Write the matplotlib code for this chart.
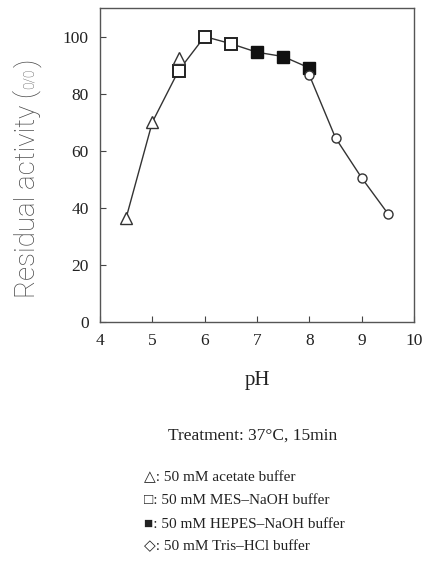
import matplotlib
matplotlib.use("Agg")
import matplotlib.pyplot as plt
import numpy as np

# Data
acetate_ph = [4.5, 5.0, 5.5]
acetate_act = [36.5, 70.0, 92.5]
mes_ph = [5.5, 6.0, 6.5]
mes_act = [88.0, 100.0, 97.5]
hepes_ph = [7.0, 7.5, 8.0]
hepes_act = [94.5, 93.0, 89.0]
tris_ph = [8.0, 8.5, 9.0, 9.5]
tris_act = [86.5, 64.5, 50.5, 38.0]

x_ticks = [4, 5, 6, 7, 8, 9, 10]
y_ticks = [0, 20, 40, 60, 80, 100]

legend_lines = [
    "\u25b3: 50 mM acetate buffer",
    "\u25a1: 50 mM MES\u2013NaOH buffer",
    "\u25a0: 50 mM HEPES\u2013NaOH buffer",
    "\u25c7: 50 mM Tris\u2013HCl buffer",
]

serif = ["Liberation Serif", "DejaVu Serif"]

fig = plt.figure(figsize=(4.25, 5.64), dpi=100)
ax = fig.add_axes([100/425, 1-322/564, 314/425, 314/564])

# connecting line
line_ph = acetate_ph[:2] + mes_ph + hepes_ph + tris_ph
line_act = acetate_act[:2] + mes_act + hepes_act + tris_act
ax.plot(line_ph, line_act, color="#333333", lw=1.0, zorder=1)

ax.plot(acetate_ph, acetate_act, ls="none", marker="^", ms=8, mfc="white", mec="#333333", mew=1.0, zorder=3)
ax.plot(mes_ph, mes_act, ls="none", marker="s", ms=8.5, mfc="white", mec="#222222", mew=1.4, zorder=2)
ax.plot(hepes_ph, hepes_act, ls="none", marker="s", ms=8.5, mfc="#111111", mec="#111111", mew=1.0, zorder=2)
ax.plot(tris_ph, tris_act, ls="none", marker="o", ms=6.5, mfc="white", mec="#333333", mew=1.0, zorder=3)

ax.set_xlim(4, 10)
ax.set_ylim(0, 110)
ax.set_xticks(x_ticks)
ax.set_yticks(y_ticks)
ax.set_xticklabels([str(v) for v in x_ticks], family=serif, fontsize=12.5, color="#222222")
ax.set_yticklabels([str(v) for v in y_ticks], family=serif, fontsize=12.5, color="#222222")
ax.tick_params(direction="in", length=4, width=0.8, colors="#444444", labelcolor="#222222", pad=8)
for s in ax.spines.values():
    s.set_color("#555555")
    s.set_linewidth(1.0)

ax.set_xlabel("pH", family=serif, fontsize=15, color="#222222", labelpad=16)

fig.text(253/425, 1-436/564, "Treatment: 37\u00b0C, 15min", family=serif, fontsize=12.5,
         ha="center", va="center", color="#222222")

ys = [478, 501, 524, 547]
for t, yy in zip(legend_lines, ys):
    fig.text(144/425, 1-yy/564, t, family=serif + ["DejaVu Sans"], fontsize=11,
             ha="left", va="center", color="#222222")

# y label composed of pieces
lab_font = ["Roboto", "DejaVu Sans"]
lab_size = 20
lab_weight = "light"
lab_color = "#4a4a4a"
xc = 27/425
t1 = fig.text(xc, 1-298/564, "Residual activity (", family=lab_font, fontweight=lab_weight,
              fontsize=lab_size, rotation=90, rotation_mode="anchor", ha="left", va="center", color=lab_color)
fig.canvas.draw()
r = fig.canvas.get_renderer()
bb = t1.get_window_extent(r)
top = bb.y1 / fig.bbox.height
t2 = fig.text(xc + 3/425, top + 1/564, "0/0", family=lab_font, fontweight=lab_weight,
              fontsize=10, rotation=90, rotation_mode="anchor", ha="left", va="center", color=lab_color)
fig.canvas.draw()
bb2 = t2.get_window_extent(r)
top2 = bb2.y1 / fig.bbox.height
fig.text(xc, top2 + 1/564, ")", family=lab_font, fontweight=lab_weight,
         fontsize=lab_size, rotation=90, rotation_mode="anchor", ha="left", va="center", color=lab_color)

fig.savefig("out.png", dpi=100)
